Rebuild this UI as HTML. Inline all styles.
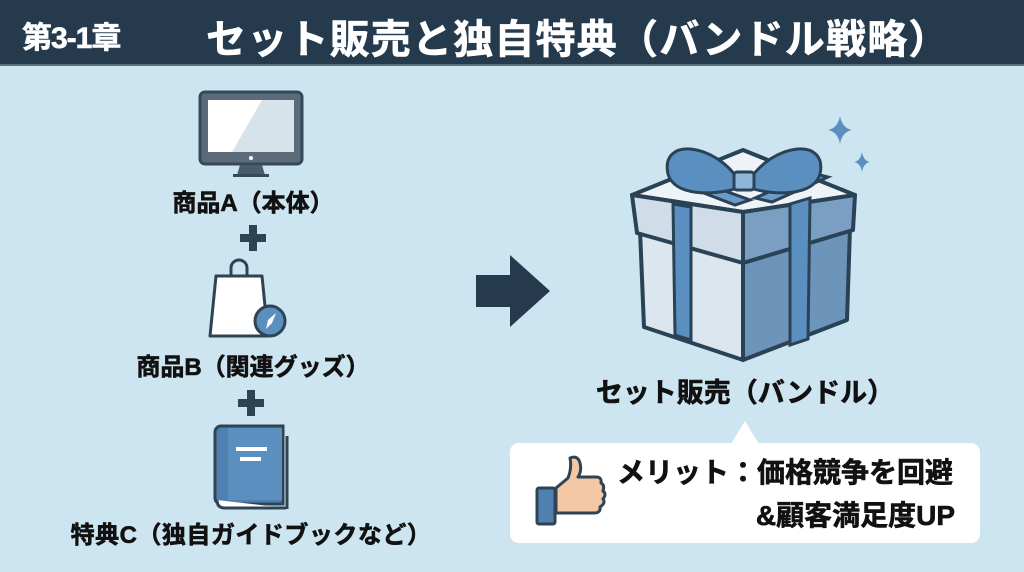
<!DOCTYPE html>
<html><head><meta charset="utf-8"><style>
html,body{margin:0;padding:0}
body{width:1024px;height:572px;overflow:hidden;background:#cde5f0;position:relative;font-family:"Liberation Sans","Noto Sans CJK JP",sans-serif;font-weight:bold;color:#111}
.hdr{position:absolute;left:0;top:0;width:1024px;height:64px;background:#253a4c;border-bottom:2px solid #5a6f80}
.t{position:absolute;white-space:nowrap;-webkit-text-stroke:0.6px currentColor}
</style></head><body>
<div class="hdr"></div>
<div class="t" style="left:22px;top:13px;font-size:30px;color:#fff;letter-spacing:-1px">第3-1章</div>
<div class="t" style="left:206px;top:7px;font-size:40px;color:#fff;letter-spacing:1.2px">セット販売と独自特典（バンドル戦略）</div>

<svg width="1024" height="572" style="position:absolute;left:0;top:0">
<!-- monitor -->
<rect x="200" y="92" width="102" height="72" rx="5" fill="#5b6b79" stroke="#34495a" stroke-width="3"/>
<rect x="208" y="100" width="86" height="52" fill="#fff"/>
<polygon points="262,100 294,100 294,152 232,152" fill="#d7e3ea"/>
<circle cx="251" cy="158" r="2" fill="#fff"/>
<polygon points="240,165 262,165 265,175 237,175" fill="#4a5b69"/>
<rect x="233" y="174" width="36" height="3" fill="#34495a"/>
<!-- plus -->
<rect x="240" y="234" width="26" height="8" fill="#2e4354"/><rect x="249" y="225" width="8" height="26" fill="#2e4354"/>
<rect x="238" y="399" width="26" height="8" fill="#2e4354"/><rect x="247" y="390" width="8" height="26" fill="#2e4354"/>
<!-- bag -->
<path d="M231 278 v-10 a8 8 0 0 1 16 0 v10" fill="none" stroke="#2e4354" stroke-width="3"/>
<path d="M216 276 h46 l6 60 h-58 z" fill="#fff" stroke="#2e4354" stroke-width="3" stroke-linejoin="round"/>
<circle cx="270" cy="321" r="15" fill="#5b8fc0" stroke="#2e4354" stroke-width="3"/>
<polygon points="276,313 272,323 266,329 268,320" fill="#fff"/>
<!-- book -->
<path d="M215 432 a6 6 0 0 1 6 -6 h62 v78 h-62 a6 6 0 0 1 -6 -6 z" fill="#4f80b0" stroke="#2e4354" stroke-width="3"/>
<rect x="228" y="428" width="54" height="72" fill="#5b8fc0"/>
<path d="M217 500 q0 8 8 8 h61" fill="#fff" stroke="#2e4354" stroke-width="3"/>
<line x1="287" y1="436" x2="287" y2="509" stroke="#2e4354" stroke-width="3"/>
<rect x="236" y="447" width="31" height="4" fill="#fff"/><rect x="240" y="457" width="21" height="4" fill="#fff"/>
<!-- arrow -->
<polygon points="476,275 510,275 510,255 550,291 510,327 510,307 476,307" fill="#253a4c"/>
<!-- gift box -->
<g stroke="#2a4256" stroke-width="4" stroke-linejoin="round">
<polygon points="640,230 743,262 743,360 644,327" fill="#dbe6ee"/>
<polygon points="743,262 850,228 847,320 743,360" fill="#6d94b9"/>
<polygon points="632,195 743,150 855,195 743,212" fill="#eef3f7"/>
<polygon points="632,195 743,212 743,263 637,233" fill="#d0dde8"/>
<polygon points="743,212 855,195 853,230 743,263" fill="#7a9fc2"/>
</g>
<g stroke="#2a4256" stroke-width="3" fill="#5b8fc0">
<polygon points="673,204 691,207 691,340 675,335"/>
<polygon points="790,204 810,198 808,339 790,345"/>
<polygon points="670,180 735,205 750,200 683,176" fill="#6a9cc8"/>
<polygon points="755,198 812,173 828,177 772,202" fill="#6a9cc8"/>
<path d="M740 182 c-25 -40 -80 -45 -72 -8 c6 22 45 22 70 14 z" fill="#5b8fc0"/>
<path d="M748 182 c25 -40 80 -45 72 -8 c-6 22 -45 22 -70 14 z" fill="#5b8fc0"/>
<rect x="734" y="172" width="20" height="18" rx="3" fill="#8fb5d8"/>
</g>
<path d="M840 116 q2 12 12 14 q-10 2 -12 14 q-2 -12 -12 -14 q10 -2 12 -14z" fill="#5b8fc0"/>
<path d="M862 152 q1.5 9 8 10 q-6.5 1 -8 10 q-1.5 -9 -8 -10 q6.5 -1 8 -10z" fill="#5b8fc0"/>
<!-- bubble -->
<rect x="510" y="443" width="470" height="100" rx="9" fill="#fff"/>
<polygon points="731,444 745,421 759,444" fill="#fff"/>
<!-- thumb -->
<rect x="537" y="488" width="18" height="36" rx="2" fill="#4f80b0" stroke="#2e4354" stroke-width="3"/>
<path d="M556 488 l12 -10 q4 -10 2 -20 q8 -3 10 5 q2 8 -2 14 h18 q6 0 5 6 q4 2 2 8 q4 3 0 8 q3 4 -3 8 q1 6 -6 6 h-38 z" fill="#f3c7a4" stroke="#2e4354" stroke-width="3" stroke-linejoin="round"/>
</svg>

<div class="t" style="left:0;width:506px;text-align:center;top:183px;font-size:24px">商品A（本体）</div>
<div class="t" style="left:0;width:506px;text-align:center;top:347px;font-size:24px">商品B（関連グッズ）</div>
<div class="t" style="left:0;width:502px;text-align:center;top:515px;font-size:24px;letter-spacing:0.5px">特典C（独自ガイドブックなど）</div>
<div class="t" style="left:545px;width:400px;text-align:center;top:371px;font-size:27px">セット販売（バンドル）</div>
<div class="t" style="left:617px;top:451px;font-size:28px">メリット：価格競争を回避</div>
<div class="t" style="right:69px;top:494px;font-size:28px">&amp;顧客満足度UP</div>
</body></html>
